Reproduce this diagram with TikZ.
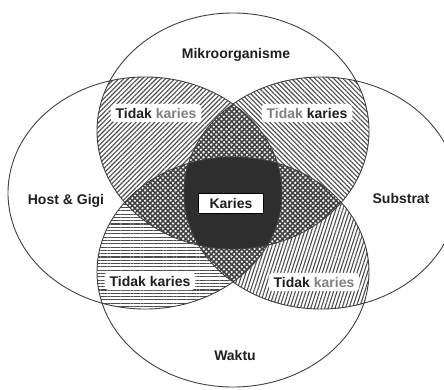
\documentclass[tikz,border=0pt]{standalone}
\usepackage{fontspec}
\setmainfont{Liberation Sans}
\usetikzlibrary{patterns.meta}

\def\elMikro{(mikro) ellipse [x radius=136, y radius=118]}
\def\elHost{(host) ellipse [x radius=137, y radius=116]}
\def\elSubstrat{(substrat) ellipse [x radius=137, y radius=116]}
\def\elWaktu{(waktu) ellipse [x radius=136, y radius=115]}

\begin{document}
\begin{tikzpicture}[x=1pt, y=-1pt,
  lbl/.style={font=\bfseries\fontsize{14}{16}\selectfont, text=black!88},
  tidak/.style={lbl, fill=white, rounded corners=4pt, inner xsep=5pt, inner ysep=4pt},
  hatch/.style={pattern={Lines[angle=#1, distance=3.3pt, line width=1.1pt]}, pattern color=black!70},
  xhatch/.style={pattern={Lines[angle=#1, distance=3.6pt, line width=1.6pt]}, pattern color=black!75}]
\useasboundingbox (0,0) rectangle (444,389);
\clip (0,0) rectangle (444,389);
\coordinate (mikro) at (233,131);
\coordinate (host) at (145,193);
\coordinate (substrat) at (321,193);
\coordinate (waktu) at (233,272);
\begin{scope} \clip \elMikro; \fill [hatch=45] \elHost; \end{scope}
\begin{scope} \clip \elMikro; \fill [hatch=-45] \elSubstrat; \end{scope}
\begin{scope} \clip \elHost; \fill [hatch=0] \elWaktu; \end{scope}
\begin{scope} \clip \elSubstrat; \fill [hatch=72] \elWaktu; \end{scope}
\begin{scope} \clip \elMikro; \clip \elHost; \fill [white] \elSubstrat; \fill [xhatch=45] \elSubstrat; \fill [xhatch=-45] \elSubstrat; \end{scope}
\begin{scope} \clip \elMikro; \clip \elHost; \fill [white] \elWaktu; \fill [xhatch=45] \elWaktu; \fill [xhatch=-45] \elWaktu; \end{scope}
\begin{scope} \clip \elMikro; \clip \elSubstrat; \fill [white] \elWaktu; \fill [xhatch=45] \elWaktu; \fill [xhatch=-45] \elWaktu; \end{scope}
\begin{scope} \clip \elHost; \clip \elSubstrat; \fill [white] \elWaktu; \fill [xhatch=45] \elWaktu; \fill [xhatch=-45] \elWaktu; \end{scope}
\begin{scope} \clip \elMikro; \clip \elHost; \clip \elSubstrat; \fill [black!82] \elWaktu; \end{scope}
\draw [line width=0.9pt, black!75] \elMikro;
\draw [line width=0.9pt, black!75] \elHost;
\draw [line width=0.9pt, black!75] \elSubstrat;
\draw [line width=0.9pt, black!75] \elWaktu;
\node [lbl] (mikrolbl) at (236,55) {Mikroorganisme};
\node [lbl] (hostlbl) at (66,201) {Host \& Gigi};
\node [lbl] (substratlbl) at (401,198) {Substrat};
\node [lbl] (waktulbl) at (235,355) {Waktu};
\node [tidak] (tidak1) at (156,113) {Tidak \textcolor{black!50}{karies}};
\node [tidak] (tidak2) at (307,113) {\textcolor{black!50}{Tidak} karies};
\node [tidak] (tidak3) at (150,281) {Tidak karies};
\node [tidak] (tidak4) at (314,282) {Tidak \textcolor{black!50}{karies}};
\node [lbl, fill=white, draw=black, minimum width=65pt, minimum height=20pt, inner sep=0pt] (karies) at (231,203) {Karies};
\end{tikzpicture}
\end{document}
